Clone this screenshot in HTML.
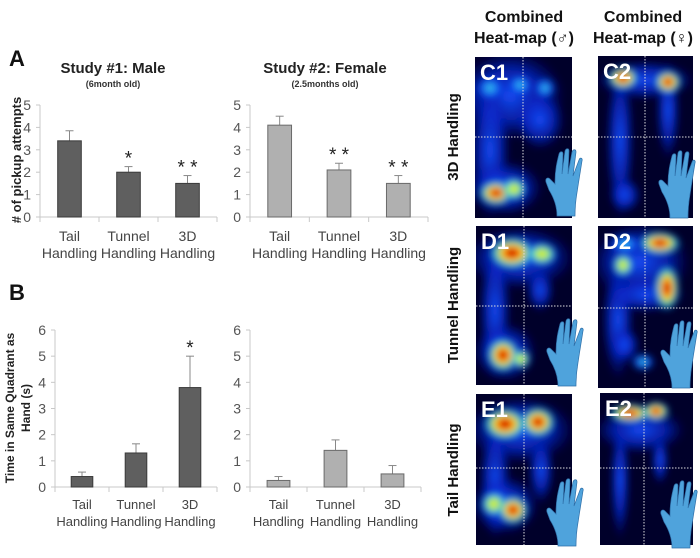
<!DOCTYPE html>
<html><head><meta charset="utf-8"><style>
body{margin:0;background:#fff;width:700px;height:558px;overflow:hidden;font-family:"Liberation Sans",sans-serif}
svg{position:absolute;left:0;top:0}
</style></head><body>
<svg id="s" width="700" height="558" viewBox="0 0 700 558" xmlns="http://www.w3.org/2000/svg">
<defs>
<radialGradient id="hot"><stop offset="0" stop-color="#900000"/><stop offset="0.22" stop-color="#f02000"/><stop offset="0.45" stop-color="#ffe000"/><stop offset="0.7" stop-color="#30e0d0" stop-opacity="0.85"/><stop offset="1" stop-color="#0030ff" stop-opacity="0"/></radialGradient>
<radialGradient id="warm"><stop offset="0" stop-color="#ffd000"/><stop offset="0.4" stop-color="#a0ff60"/><stop offset="0.7" stop-color="#20c0ff" stop-opacity="0.7"/><stop offset="1" stop-color="#0030ff" stop-opacity="0"/></radialGradient>
<radialGradient id="cool"><stop offset="0" stop-color="#40e0e0"/><stop offset="0.5" stop-color="#1060ff" stop-opacity="0.85"/><stop offset="1" stop-color="#0010c0" stop-opacity="0"/></radialGradient>
<radialGradient id="blue"><stop offset="0" stop-color="#1850ff" stop-opacity="0.95"/><stop offset="0.6" stop-color="#0828d0" stop-opacity="0.7"/><stop offset="1" stop-color="#0010a0" stop-opacity="0"/></radialGradient>
<filter id="bl" x="-20%" y="-20%" width="140%" height="140%"><feGaussianBlur stdDeviation="3.5"/></filter>
</defs>
<g id="charts"></g>
<g id="heat"></g>
</svg>
<script>
// ---- chart data ----
var categories = ["Tail|Handling","Tunnel|Handling","3D|Handling"];
var maleAttempts = [3.4, 2.0, 1.5];
var maleAttemptsErr = [0.45, 0.25, 0.35];
var femaleAttempts = [4.1, 2.1, 1.5];
var femaleAttemptsErr = [0.4, 0.3, 0.35];
var maleTime = [0.4, 1.3, 3.8];
var maleTimeErr = [0.17, 0.35, 1.2];
var femaleTime = [0.25, 1.4, 0.5];
var femaleTimeErr = [0.15, 0.4, 0.32];
var maleAttemptsSig = ["", "*", "**"];
var femaleAttemptsSig = ["", "**", "**"];
var maleTimeSig = ["", "", "*"];
var femaleTimeSig = ["", "", ""];
var ticksTop = [0,1,2,3,4,5];
var ticksBottom = [0,1,2,3,4,5,6];

var NS="http://www.w3.org/2000/svg";
function mk(tag, attrs, parent){var e=document.createElementNS(NS,tag);for(var k in attrs)e.setAttribute(k,attrs[k]);(parent||document.getElementById('charts')).appendChild(e);return e;}
function txt(str, attrs, parent){var e=mk('text',attrs,parent);e.textContent=str;return e;}

function chart(name, x0, x1, y0, yTop, ticks, vals, errs, sigs, fill, stroke, catY, catFs){
  var g=mk('g',{});
  
  
  var maxV=ticks[ticks.length-1];
  function ys(v){return y0-(y0-yTop)*v/maxV;}
  var n=vals.length, cw=(x1-x0)/n, bw=cw*0.4;
  function xs(i){return x0+cw*(i+0.5);}
  var ax=mk('line',{x1:x0,y1:yTop,x2:x0,y2:y0,stroke:'#c8c8c8','stroke-width':1},g);
  
  
  var bx=mk('line',{x1:x0,y1:y0,x2:x1,y2:y0,stroke:'#c8c8c8','stroke-width':1},g);
  
  
  ticks.forEach(function(t){
    mk('line',{x1:x0-4,y1:ys(t),x2:x0,y2:ys(t),stroke:'#c8c8c8'},g);
    var tl=txt(String(t),{x:x0-9,y:ys(t)+5,'font-size':14,fill:'#555','text-anchor':'end'},g);
    
    
  });
  for(var i=0;i<=n;i++) mk('line',{x1:x0+cw*i,y1:y0,x2:x0+cw*i,y2:y0+5,stroke:'#c8c8c8'},g);
  vals.forEach(function(v,i){
    var cx=xs(i);
    var top=ys(v+errs[i]);
    var el=mk('line',{x1:cx,y1:ys(v),x2:cx,y2:top,stroke:'#888'},g);
    
    
    mk('line',{x1:cx-4,y1:top,x2:cx+4,y2:top,stroke:'#888'},g);
    var r=mk('rect',{x:cx-bw/2,y:ys(v),width:bw,height:y0-ys(v),fill:fill,stroke:stroke,'stroke-width':1},g);
    
    
    if(sigs[i]){
      var st=txt(sigs[i].split('').join(' '),{x:cx,y:top-2,'font-size':19,fill:'#222','text-anchor':'middle'},g);
      
      
    }
    var parts=categories[i].split('|');
    var c1=txt(parts[0],{x:cx,y:catY,'font-size':catFs,fill:'#444','text-anchor':'middle'},g);
    
    
    txt(parts[1],{x:cx,y:catY+17,'font-size':catFs,fill:'#444','text-anchor':'middle'},g);
  });
}
chart('male-attempts-chart',40,217,217,105,ticksTop,maleAttempts,maleAttemptsErr,maleAttemptsSig,'#5f5f5f','#3a3a3a',241,14);
chart('female-attempts-chart',250,428,217,105,ticksTop,femaleAttempts,femaleAttemptsErr,femaleAttemptsSig,'#b0b0b0','#6a6a6a',241,14);
chart('male-time-chart',55,217,487,330,ticksBottom,maleTime,maleTimeErr,maleTimeSig,'#5f5f5f','#3a3a3a',509,13);
chart('female-time-chart',250,421,487,330,ticksBottom,femaleTime,femaleTimeErr,femaleTimeSig,'#b0b0b0','#6a6a6a',509,13);

// ---- heatmaps (illustrative images) ----
var H=document.getElementById('heat');
function panel(name,label,x,y,w,h,vx,hy,blobs,gx,gy){
  var g=mk('g',{},H);
  
  
  var cp=mk('clipPath',{id:'cp'+label},g);
  mk('rect',{x:x,y:y,width:w,height:h},cp);
  mk('rect',{x:x,y:y,width:w,height:h,fill:'#00002a'},g);
  var b=mk('g',{'clip-path':'url(#cp'+label+')'},g);
  var bb=mk('g',{filter:'url(#bl)'},b);
  blobs.forEach(function(d){mk('ellipse',{cx:d[1],cy:d[2],rx:d[3],ry:d[4],fill:'url(#'+d[0]+')'},bb);});
  mk('line',{x1:vx,y1:y,x2:vx,y2:y+h,stroke:'#ddd','stroke-dasharray':'1.5 1.5','stroke-width':1},b);
  mk('line',{x1:x,y1:hy,x2:x+w,y2:hy,stroke:'#ddd','stroke-dasharray':'1.5 1.5','stroke-width':1},b);
  var lt=txt(label,{x:x+5,y:y+23,'font-size':22,'font-weight':'bold',fill:'#fff'},g);
  
  
  var gl=mk('g',{transform:'translate('+gx+','+gy+')',fill:'#4fa3dc',stroke:'#2f6fa8','stroke-width':0.7},g);
  
  
  mk('path',{d:'M8 34 C8 22 10 14 12 6 C13 3 16 3 16 6 L15 26 L18 3 C19 0 22 0 22 3 L21 26 L25 4 C26 1 29 1 29 4 L26 28 L32 12 C33 9 36 10 35 13 L31 38 C30 46 28 52 28 68 L10 68 C10 58 7 50 2 42 L-1 34 C-2 30 1 29 3 31 L8 36 Z'},gl);
}
panel('heatmap-c1','C1',475,57,97,161,523,137,[
 ['blue',510,95,55,45],['blue',490,150,20,70],['blue',540,120,25,30],['cool',490,88,16,14],['cool',520,85,14,12],['cool',545,88,12,12],['blue',505,188,38,28],
 ['hot',496,193,18,13],['warm',514,189,13,12]],547,148);
panel('heatmap-c2','C2',598,56,95,162,645,137,[
 ['blue',645,80,50,20],['blue',620,140,14,80],['blue',668,110,12,50],['blue',625,195,16,18],['hot',623,78,16,12],['hot',668,82,14,12]],660,150);
panel('heatmap-d1','D1',476,226,96,159,524,306,[
 ['blue',520,258,55,32],['blue',495,310,16,70],['blue',540,290,14,22],['hot',512,253,24,17],['warm',542,254,16,12],
 ['blue',505,352,32,30],['hot',503,355,17,18],['warm',521,359,10,10]],548,318);
panel('heatmap-d2','D2',598,226,95,162,645,308,[
 ['blue',640,262,50,40],['blue',618,320,16,60],['blue',645,295,40,18],['cool',625,244,18,11],['warm',623,265,11,12],
 ['hot',660,243,22,12],['hot',667,288,13,24],['blue',625,345,15,18],['cool',643,362,13,10]],662,320);
panel('heatmap-e1','E1',476,394,96,151,524,468,[
 ['blue',520,430,55,34],['blue',495,480,16,60],['blue',541,470,13,34],['hot',505,424,23,17],['hot',538,422,18,16],
 ['blue',505,505,34,30],['warm',494,504,14,13],['hot',513,510,16,15]],548,478);
panel('heatmap-e2','E2',600,393,93,152,644,468,[
 ['blue',640,430,45,24],['blue',620,480,10,60],['blue',660,460,9,25],['hot',630,413,22,10],['hot',656,411,14,10]],662,480);

// ---- static text ----
function T(name,str,a){var e=txt(str,a,document.getElementById('s'));return e;}
T('panel-a-label','A',{x:9,y:66,'font-size':22,'font-weight':'bold',fill:'#111'});
T('panel-b-label','B',{x:9,y:300,'font-size':22,'font-weight':'bold',fill:'#111'});
T('study1-title','Study #1: Male',{x:113,y:73,'font-size':15,'font-weight':'bold',fill:'#222','text-anchor':'middle'});
T('study1-subtitle','(6month old)',{x:113,y:87,'font-size':9,'font-weight':'bold',fill:'#333','text-anchor':'middle'});
T('study2-title','Study #2: Female',{x:325,y:73,'font-size':15,'font-weight':'bold',fill:'#222','text-anchor':'middle'});
T('study2-subtitle','(2.5months old)',{x:325,y:87,'font-size':9,'font-weight':'bold',fill:'#333','text-anchor':'middle'});
T('y-axis-title-attempts','# of pickup attempts',{x:0,y:0,'font-size':13,'font-weight':'bold',fill:'#222','text-anchor':'middle',transform:'translate(21,160) rotate(-90)'});
T('y-axis-title-time','Time in Same Quadrant as',{x:0,y:0,'font-size':12,'font-weight':'bold',fill:'#222','text-anchor':'middle',transform:'translate(14,408) rotate(-90)'});
T('y-axis-title-time-2','Hand (s)',{x:0,y:0,'font-size':12,'font-weight':'bold',fill:'#222','text-anchor':'middle',transform:'translate(30,408) rotate(-90)'});
T('heatmap-male-title','Combined',{x:524,y:22,'font-size':16,'font-weight':'bold',fill:'#111','text-anchor':'middle'});
T('heatmap-male-title-2','Heat-map (\u2642)',{x:524,y:43,'font-size':16,'font-weight':'bold',fill:'#111','text-anchor':'middle'});
T('heatmap-female-title','Combined',{x:643,y:22,'font-size':16,'font-weight':'bold',fill:'#111','text-anchor':'middle'});
T('heatmap-female-title-2','Heat-map (\u2640)',{x:643,y:43,'font-size':16,'font-weight':'bold',fill:'#111','text-anchor':'middle'});
T('row-label-3d','3D Handling',{x:0,y:0,'font-size':15,'font-weight':'bold',fill:'#111','text-anchor':'middle',transform:'translate(458,137) rotate(-90)'});
T('row-label-tunnel','Tunnel Handling',{x:0,y:0,'font-size':15,'font-weight':'bold',fill:'#111','text-anchor':'middle',transform:'translate(458,305) rotate(-90)'});
T('row-label-tail','Tail Handling',{x:0,y:0,'font-size':15,'font-weight':'bold',fill:'#111','text-anchor':'middle',transform:'translate(458,470) rotate(-90)'});
</script>
</body></html>
